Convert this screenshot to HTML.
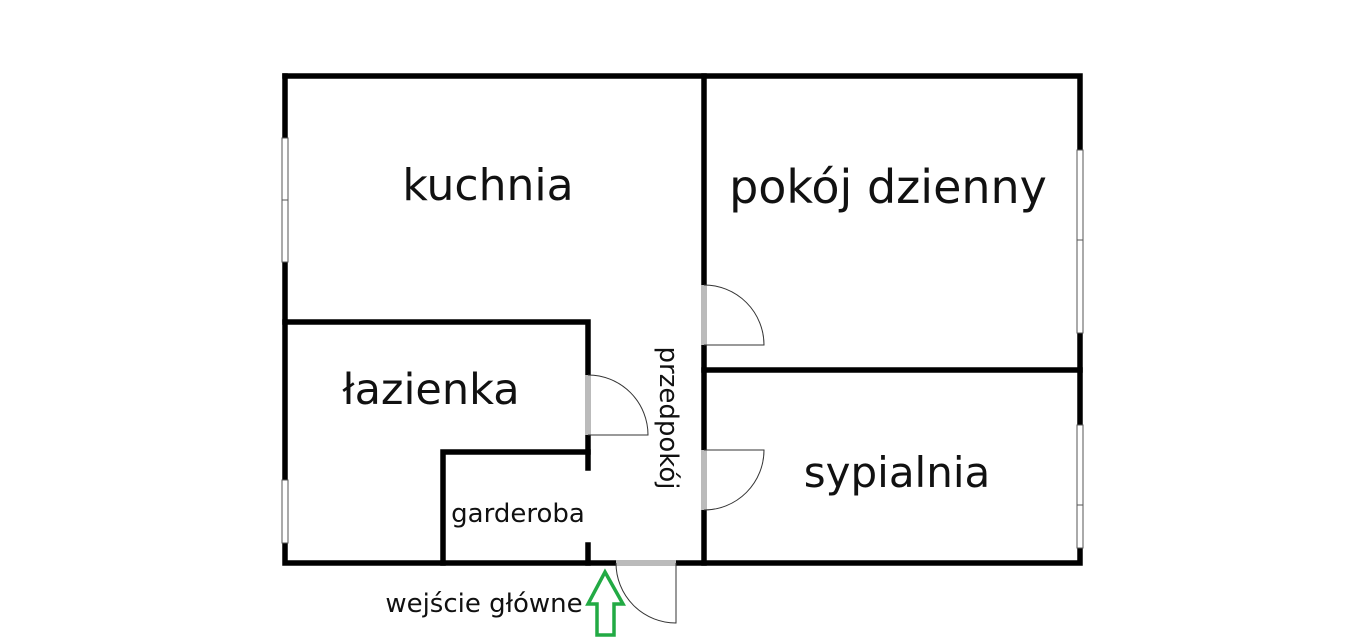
<!DOCTYPE html>
<html><head><style>html,body{margin:0;padding:0;background:#fff}svg{display:block}</style></head>
<body>
<svg width="1366" height="641" xmlns="http://www.w3.org/2000/svg" font-family="'DejaVu Sans','Liberation Sans',sans-serif">
<g stroke="#000" stroke-width="5.5" stroke-linecap="square" fill="none">
<path d="M285 76 H1080 V563 H676"/>
<path d="M616 563 H285 V76"/>
<path d="M704 76 V285 M704 345 V450 M704 510 V563"/>
<path d="M704 370 H1080"/>
<path d="M285 322 H588 V375 M588 435 V468"/>
<path d="M588 452 H443 V563"/>
<path d="M588 545 V563"/>
</g>
<g fill="#fff" stroke="#555" stroke-width="1">
<rect x="282" y="138" width="6" height="124"/>
<line x1="282" y1="200" x2="288" y2="200"/>
<rect x="282" y="480" width="6" height="63"/>
<rect x="1077" y="150" width="6" height="183"/>
<line x1="1077" y1="240" x2="1083" y2="240"/>
<rect x="1077" y="425" width="6" height="123"/>
<line x1="1077" y1="505" x2="1083" y2="505"/>
</g>
<g fill="#bbb">
<rect x="701" y="285" width="6" height="60"/>
<rect x="585" y="375" width="6" height="60"/>
<rect x="701" y="450" width="6" height="60"/>
<rect x="616" y="560" width="60" height="6"/>
</g>
<g stroke="#333" stroke-width="1" fill="none">
<path d="M704 285 A60 60 0 0 1 764 345 H704"/>
<path d="M588 375 A60 60 0 0 1 648 435 H588"/>
<path d="M704 450 H764 A60 60 0 0 1 704 510"/>
<path d="M616 563 A60 60 0 0 0 676 623 V563"/>
</g>
<path d="M605 572 L623 604 H614 V635 H597 V604 H588 Z" fill="none" stroke="#22aa44" stroke-width="3.5" stroke-linejoin="miter"/>
<g fill="#111">
<text x="488" y="200" font-size="44" text-anchor="middle">kuchnia</text>
<text x="888" y="203" font-size="46" text-anchor="middle">pokój dzienny</text>
<text x="431" y="404" font-size="43" text-anchor="middle">łazienka</text>
<text x="897" y="487" font-size="42" text-anchor="middle">sypialnia</text>
<text x="518" y="522" font-size="26" text-anchor="middle">garderoba</text>
<text x="484" y="612" font-size="26" text-anchor="middle">wejście główne</text>
<text transform="translate(660,418) rotate(90)" font-size="26" text-anchor="middle">przedpokój</text>
</g>
</svg>
</body></html>
